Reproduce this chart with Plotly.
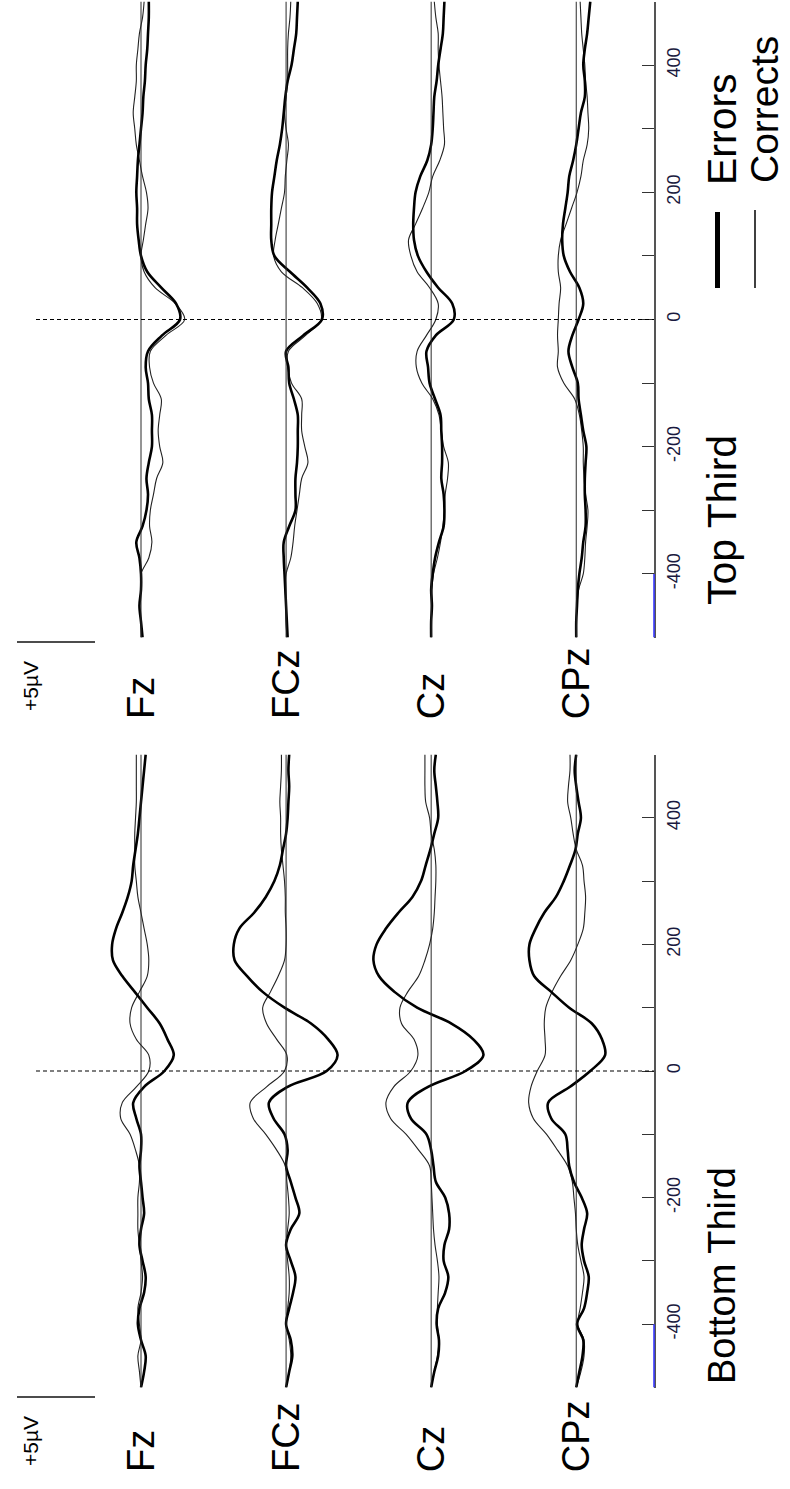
import plotly.graph_objects as go

W, H = 790, 1489

# Time base of the grand averages (ms, response-locked)
times = list(range(-500, 501, 25))
channels = ["Fz", "FCz", "Cz", "CPz"]

# ---- Top Third: mean amplitude (µV) for error and correct responses ----
top_fz_err = [-0.1, 0.0, 0.1, 0.0, 0.0, 0.1, 0.3, -0.1, -0.35, -0.45, -0.35, -0.5, -0.7, -0.7, -0.7, -0.5, -0.45, -0.3, -0.45, -1.35,
              -2.5, -2.25, -1.3, -0.4, 0.0, 0.15, 0.25, 0.25, 0.3, 0.25, 0.2, 0.1, 0.0, -0.1, -0.15, -0.25, -0.3, -0.4, -0.45, -0.5, -0.5]
top_fz_cor = [0.0, 0.0, 0.1, 0.0, 0.0, -0.5, -0.7, -0.55, -0.6, -0.8, -1.0, -1.4, -1.2, -1.1, -1.2, -1.3, -0.8, -0.55, -0.6, -1.6,
              -2.8, -2.2, -0.9, -0.2, 0.0, -0.15, -0.3, -0.45, -0.35, -0.1, 0.1, 0.3, 0.4, 0.5, 0.4, 0.3, 0.3, 0.2, 0.1, -0.1, -0.2]
top_fcz_err = [-0.1, -0.05, 0.0, 0.05, 0.1, 0.15, 0.15, -0.2, -0.6, -0.6, -0.6, -0.7, -0.75, -0.75, -0.75, -0.5, -0.2, -0.15, 0.0, -1.1,
               -2.3, -2.2, -1.35, -0.25, 0.75, 0.95, 0.95, 0.95, 0.9, 0.75, 0.6, 0.4, 0.25, 0.15, 0.05, -0.1, -0.35, -0.5, -0.65, -0.7, -0.75]
top_fcz_cor = [-0.05, 0.0, 0.0, 0.05, 0.0, -0.3, -0.45, -0.55, -0.7, -0.85, -1.0, -1.4, -1.2, -1.0, -1.0, -1.0, -0.35, -0.1, -0.15, -1.25,
               -2.25, -2.0, -1.05, 0.3, 0.8, 0.7, 0.5, 0.3, 0.1, 0.05, -0.05, -0.15, 0.0, 0.1, 0.0, -0.1, -0.1, -0.1, -0.15, -0.25, -0.3]
top_cz_err = [0.0, 0.0, -0.05, 0.0, -0.1, -0.25, -0.5, -0.8, -0.85, -0.8, -0.65, -0.7, -0.7, -0.65, -0.6, -0.25, 0.1, 0.2, 0.3, -0.3,
              -1.45, -1.35, -0.45, 0.3, 0.85, 1.1, 1.15, 1.1, 1.0, 0.7, 0.25, 0.0, -0.1, -0.15, -0.2, -0.35, -0.45, -0.6, -0.75, -0.8, -0.85]
top_cz_cor = [0.0, 0.0, -0.05, -0.05, -0.15, -0.4, -0.6, -0.75, -0.85, -0.9, -1.05, -1.1, -0.8, -0.65, -0.5, -0.1, 0.6, 0.95, 0.9, 0.3,
              -0.3, -0.45, 0.1, 0.9, 1.3, 1.45, 1.0, 0.55, 0.15, -0.1, -0.55, -0.85, -0.8, -0.75, -0.7, -0.6, -0.5, -0.45, -0.45, -0.3, -0.2]
top_cpz_err = [0.0, 0.0, -0.05, -0.1, -0.2, -0.35, -0.45, -0.6, -0.6, -0.55, -0.55, -0.6, -0.65, -0.45, -0.3, -0.15, -0.1, 0.25, 0.5, 0.25,
               -0.15, -0.45, -0.2, 0.4, 0.8, 0.9, 0.85, 0.7, 0.55, 0.45, 0.2, 0.0, -0.15, -0.3, -0.55, -0.55, -0.45, -0.55, -0.7, -0.8, -0.9]
top_cpz_cor = [0.0, 0.0, -0.05, -0.15, -0.45, -0.55, -0.6, -0.7, -0.75, -0.6, -0.5, -0.45, -0.45, -0.35, -0.2, 0.1, 0.8, 1.2, 1.15, 1.2,
               1.15, 1.1, 1.0, 1.15, 1.15, 1.0, 0.65, 0.3, -0.05, -0.3, -0.45, -0.7, -0.8, -0.75, -0.7, -0.6, -0.55, -0.45, -0.35, -0.3, -0.25]

# ---- Bottom Third ----
bot_fz_err = [0.0, -0.2, -0.3, 0.0, 0.2, 0.1, -0.2, -0.3, -0.1, 0.1, 0.0, -0.2, -0.1, 0.0, 0.1, 0.0, 0.0, 0.3, 0.5, -0.2,
              -1.5, -2.1, -1.7, -1.2, -0.4, 0.4, 1.2, 1.8, 1.85, 1.6, 1.2, 0.85, 0.6, 0.5, 0.35, 0.2, 0.1, 0.0, -0.1, -0.2, -0.3]
bot_fz_cor = [0.0, 0.1, 0.2, 0.0, 0.1, 0.2, 0.0, -0.1, 0.0, 0.1, 0.2, 0.2, 0.2, 0.1, 0.1, 0.35, 0.7, 1.3, 1.2, 0.3,
              -0.5, -0.5, 0.3, 0.7, 0.6, 0.1, -0.4, -0.5, -0.4, -0.2, 0.0, 0.2, 0.3, 0.4, 0.4, 0.4, 0.35, 0.3, 0.3, 0.3, 0.3]
bot_fcz_err = [0.0, -0.2, -0.4, -0.3, 0.0, -0.2, -0.45, -0.6, -0.3, 0.0, -0.3, -0.85, -0.6, -0.3, 0.0, -0.1, 0.1, 0.8, 1.1, -0.1,
               -2.6, -3.3, -2.7, -1.6, 0.1, 1.5, 2.5, 3.3, 3.35, 3.0, 2.05, 1.3, 0.75, 0.4, 0.2, 0.0, -0.1, -0.15, -0.2, -0.15, -0.2]
bot_fcz_cor = [0.0, -0.2, -0.3, -0.2, 0.0, -0.1, -0.2, -0.2, -0.1, 0.0, -0.1, -0.2, -0.15, -0.05, 0.05, 0.6, 1.3, 2.1, 2.3, 1.25,
               0.1, -0.05, 0.6, 1.25, 1.5, 1.0, 0.5, 0.1, 0.0, 0.0, 0.05, 0.05, 0.1, 0.2, 0.3, 0.35, 0.35, 0.4, 0.35, 0.3, 0.3]
bot_cz_err = [0.0, -0.2, -0.45, -0.5, -0.35, -0.45, -0.9, -1.1, -0.8, -0.85, -1.15, -1.15, -0.9, -0.3, -0.15, 0.0, 0.3, 1.3, 1.5, 0.2,
              -2.2, -3.35, -2.7, -1.3, 0.9, 2.35, 3.35, 3.7, 3.5, 2.9, 2.1, 1.2, 0.65, 0.35, 0.05, -0.2, -0.45, -0.4, -0.3, -0.2, -0.3]
bot_cz_cor = [0.0, -0.2, -0.4, -0.5, -0.4, -0.4, -0.45, -0.5, -0.4, -0.25, -0.15, -0.1, -0.05, 0.0, 0.1, 0.8, 1.6, 2.6, 2.9, 2.4,
              1.3, 0.85, 1.1, 1.9, 2.0, 1.5, 0.8, 0.4, 0.1, -0.1, -0.2, -0.25, -0.3, -0.3, -0.2, 0.0, 0.1, 0.35, 0.4, 0.4, 0.4]
bot_cpz_err = [0.0, -0.2, -0.4, -0.45, -0.05, -0.5, -0.7, -0.8, -0.5, -0.35, -0.5, -0.7, -0.35, 0.15, 0.45, 0.55, 0.7, 1.6, 1.8, 0.4,
               -0.9, -1.85, -1.65, -1.0, 0.45, 1.6, 2.7, 3.0, 3.0, 2.6, 2.05, 1.3, 0.8, 0.4, 0.05, -0.1, -0.3, -0.15, 0.0, 0.1, 0.0]
bot_cpz_cor = [0.0, -0.3, -0.5, -0.5, -0.1, -0.25, -0.4, -0.5, -0.3, -0.1, 0.0, 0.05, 0.15, 0.25, 0.55, 1.2, 1.9, 2.75, 3.05, 2.9,
               2.5, 2.0, 2.0, 2.05, 1.95, 1.55, 1.0, 0.35, -0.1, -0.45, -0.55, -0.6, -0.5, -0.4, 0.0, 0.2, 0.35, 0.55, 0.5, 0.4, 0.4]

tick_vals = [-400, -200, 0, 200, 400]
minor_tick_vals = [-300, -100, 100, 300]
tick_text = ["-400", "-200", "0", "200", "400"]

# ---- geometry (pixels of the 790 x 1489 page) ----
PX_PER_UV = 15.6
AXIS_PX = 654          # time axis line
FZ_PX = 141            # Fz baseline
CH_STEP = 9.3          # µV between stacked channel baselines
X_RANGE = [FZ_PX / PX_PER_UV, -(AXIS_PX - FZ_PX) / PX_PER_UV]   # reversed: positive to the left


def py(p):
    return 1 - p / H


def px(p):
    return p / W


panels = [
    dict(xa="x", ya="y", dom=[py(637.5), py(1.5)],
         err=[top_fz_err, top_fcz_err, top_cz_err, top_cpz_err],
         cor=[top_fz_cor, top_fcz_cor, top_cz_cor, top_cpz_cor],
         title="Top Third", title_y=520, title_size=41, lab_y=721, scale_y=642, scale_lab_y=713),
    dict(xa="x2", ya="y2", dom=[py(1387.5), py(754.5)],
         err=[bot_fz_err, bot_fcz_err, bot_cz_err, bot_cpz_err],
         cor=[bot_fz_cor, bot_fcz_cor, bot_cz_cor, bot_cpz_cor],
         title="Bottom Third", title_y=1276, title_size=38, lab_y=1474, scale_y=1397, scale_lab_y=1468),
]

fig = go.Figure()
shapes = []
annotations = []
LABEL_FONT = "Liberation Sans, Arial, sans-serif"
BIG_FONT = "Liberation Sans, Arial, sans-serif"

for p in panels:
    for i, ch in enumerate(channels):
        off = -i * CH_STEP
        # channel baseline
        shapes.append(dict(type="line", xref=p["xa"], yref=p["ya"], x0=off, x1=off, y0=-500, y1=500,
                           line=dict(color="#2a2a2a", width=1)))
        fig.add_trace(go.Scatter(x=[off + v for v in p["cor"][i]], y=times, mode="lines",
                                 line=dict(color="#222222", width=1.1, shape="spline"),
                                 xaxis=p["xa"], yaxis=p["ya"], showlegend=False, hoverinfo="skip"))
        fig.add_trace(go.Scatter(x=[off + v for v in p["err"][i]], y=times, mode="lines",
                                 line=dict(color="#000000", width=2.6, shape="spline"),
                                 xaxis=p["xa"], yaxis=p["ya"], showlegend=False, hoverinfo="skip"))
        annotations.append(dict(text=ch, textangle=-90, xref="paper", yref="paper",
                                x=px(FZ_PX - off * PX_PER_UV), y=py(p["lab_y"]),
                                xanchor="center", yanchor="bottom", showarrow=False,
                                font=dict(family=LABEL_FONT, size=38, color="#000000")))
    # response onset
    shapes.append(dict(type="line", xref="paper", yref=p["ya"], x0=px(36), x1=px(AXIS_PX), y0=0, y1=0,
                       line=dict(color="#000000", width=1.2, dash="4px,3px")))
    # baseline segment of the time axis
    shapes.append(dict(type="line", xref=p["xa"] + " domain", yref=p["ya"], x0=1, x1=1, y0=-500, y1=-400,
                       line=dict(color="#3a3aff", width=1.6)))
    # amplitude scale bar
    x0 = X_RANGE[0] - 17 / PX_PER_UV
    shapes.append(dict(type="line", xref=p["xa"], yref="paper", x0=x0, x1=x0 - 5, y0=py(p["scale_y"]), y1=py(p["scale_y"]),
                       line=dict(color="#111111", width=1.4)))
    annotations.append(dict(text="+5µV", textangle=-90, xref="paper", yref="paper", x=px(30), y=py(p["scale_lab_y"]),
                            xanchor="center", yanchor="bottom", showarrow=False,
                            font=dict(family=LABEL_FONT, size=21, color="#000000")))
    annotations.append(dict(text=p["title"], textangle=-90, xref="paper", yref="paper", x=px(722), y=py(p["title_y"]),
                            xanchor="center", yanchor="middle", showarrow=False,
                            font=dict(family=BIG_FONT, size=p["title_size"], color="#000000")))

# legend keys
shapes.append(dict(type="line", xref="paper", yref="paper", x0=px(717.5), x1=px(717.5), y0=py(212), y1=py(288),
                   line=dict(color="#000000", width=5)))
shapes.append(dict(type="line", xref="paper", yref="paper", x0=px(755), x1=px(755), y0=py(210), y1=py(288),
                   line=dict(color="#000000", width=1.5)))
annotations.append(dict(text="Errors", textangle=-90, xref="paper", yref="paper", x=px(722), y=py(129),
                        xanchor="center", yanchor="middle", showarrow=False,
                        font=dict(family=BIG_FONT, size=41, color="#000000")))
annotations.append(dict(text="Corrects", textangle=-90, xref="paper", yref="paper", x=px(764), y=py(110),
                        xanchor="center", yanchor="middle", showarrow=False, borderpad=0,
                        font=dict(family=BIG_FONT, size=39, color="#000000")))

xaxis_common = dict(domain=[0, px(AXIS_PX)], range=X_RANGE, visible=False, showgrid=False, zeroline=False)
yaxis_common = dict(range=[-500, 500], side="right", showline=True, linecolor="#555555", linewidth=1.6,
                    showgrid=False, zeroline=False, ticks="inside", ticklen=12, tickwidth=1.4, tickcolor="#333333",
                    tickvals=tick_vals, ticktext=tick_text, tickangle=-90, ticklabelstandoff=3,
                    tickfont=dict(family=LABEL_FONT, size=18, color="#1a1a40"),
                    minor=dict(tickvals=minor_tick_vals, ticks="inside", ticklen=12, tickwidth=1.4, tickcolor="#333333"))

fig.update_layout(
    width=W, height=H, margin=dict(l=0, r=0, t=0, b=0),
    paper_bgcolor="white", plot_bgcolor="white",
    xaxis=dict(**xaxis_common, anchor="y"),
    xaxis2=dict(**xaxis_common, anchor="y2"),
    yaxis=dict(**yaxis_common, domain=panels[0]["dom"], anchor="x"),
    yaxis2=dict(**yaxis_common, domain=panels[1]["dom"], anchor="x2"),
    shapes=shapes, annotations=annotations, showlegend=False,
)

fig.write_html("out.html")
